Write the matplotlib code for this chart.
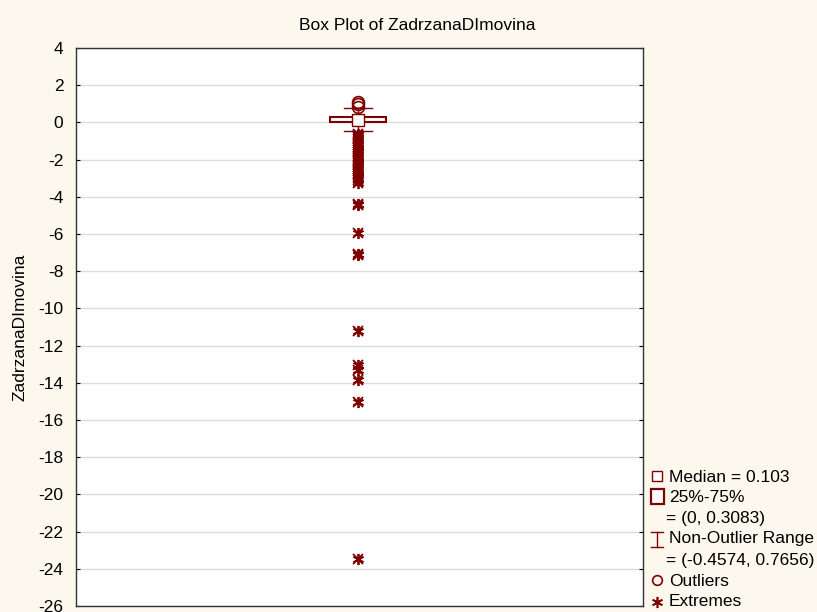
import matplotlib
matplotlib.use("Agg")
import matplotlib.pyplot as plt
from matplotlib.patches import Rectangle
from matplotlib.lines import Line2D

plt.rcParams['font.family'] = ['Liberation Sans', 'DejaVu Sans']

# Data
variable = "ZadrzanaDImovina"
median = 0.103
q1, q3 = 0.0, 0.3083
whisker_low, whisker_high = -0.4574, 0.7656
outliers = [1.1, 0.97, 0.85]
extremes = [-0.6, -0.7, -0.8, -0.9, -1.0, -1.1, -1.2, -1.3, -1.4, -1.5, -1.6,
            -1.7, -1.8, -1.9, -2.0, -2.1, -2.2, -2.3, -2.4, -2.5, -2.6, -2.7,
            -2.8, -2.9, -3.0, -3.1, -3.25, -4.4, -4.45, -5.93, -7.1, -7.15,
            -11.2, -13.05, -13.3, -13.85, -15.02, -23.45]
yticks = list(range(4, -27, -2))

color = '#800000'
bg = '#FDF8EE'
fs = 12.5

fig = plt.figure(figsize=(8.17, 6.12), dpi=100, facecolor=bg)
ax = fig.add_axes([76/817, 1-606/612, (643-76)/817, (606-48)/612])
ax.set_facecolor('white')
ax.set_xlim(-1, 1)
ax.set_ylim(-26, 4)
ax.set_yticks(yticks)
ax.set_yticklabels([str(t) for t in yticks], fontsize=fs)
ax.set_xticks([])
ax.grid(axis='y', color='#dcdcdc', linewidth=1)
ax.set_axisbelow(True)
ax.tick_params(axis='y', direction='in', length=3, right=True, pad=9)
for s in ax.spines.values():
    s.set_color('#333333')
    s.set_linewidth(1)

x0 = -0.005
# whiskers
ax.plot([x0, x0], [q3, whisker_high], color=color, lw=1)
ax.plot([x0, x0], [whisker_low, q1], color=color, lw=1)
ax.plot([x0-0.05, x0+0.05], [whisker_high]*2, color=color, lw=1)
ax.plot([x0-0.05, x0+0.05], [whisker_low]*2, color=color, lw=1)
# box
ax.add_patch(Rectangle((x0-0.1, q1), 0.2, q3-q1, facecolor='white', edgecolor=color, lw=1.5, zorder=3))
# median
ax.plot([x0], [median], marker='s', markersize=8, markerfacecolor='white', markeredgecolor=color, markeredgewidth=1, zorder=4)
# outliers
ax.plot([x0]*len(outliers), outliers, linestyle='none', marker='o', markersize=8.5, markerfacecolor='none', markeredgecolor=color, markeredgewidth=1.2, zorder=4)
# extremes
ax.plot([x0]*len(extremes), extremes, linestyle='none', marker=(6, 2, 0), markersize=8, markeredgecolor=color, markeredgewidth=1.3, zorder=4)
ax.plot([x0]*len(extremes), extremes, linestyle='none', marker='x', markersize=7, markeredgecolor=color, markeredgewidth=1.3, zorder=4)

fig.text(417/817, 1-25/612, "Box Plot of " + variable, fontsize=fs, ha='center', va='center')
ax.set_ylabel(variable, fontsize=fs, labelpad=8)

# legend drawn in figure pixels
def fx(px):
    return px/817
def fy(py):
    return 1-py/612

mx = 657
tx = 669
fig.text(fx(tx), fy(477), f"Median = {median}", fontsize=fs, va='center')
fig.add_artist(Line2D([fx(mx)], [fy(476)], marker='s', markersize=7, markerfacecolor='white', markeredgecolor=color, markeredgewidth=1, transform=fig.transFigure))
fig.text(fx(tx), fy(497), "25%-75%", fontsize=fs, va='center')
fig.add_artist(Rectangle((fx(651), fy(504)), fx(13), 15/612, facecolor='white', edgecolor=color, lw=1.6, transform=fig.transFigure))
fig.text(fx(666), fy(518), f"= ({q1:g}, {q3})", fontsize=fs, va='center')
fig.text(fx(tx), fy(539), "Non-Outlier Range", fontsize=fs, va='center')
fig.add_artist(Line2D([fx(657), fx(657)], [fy(532), fy(547)], color=color, lw=1, transform=fig.transFigure))
fig.add_artist(Line2D([fx(651), fx(663)], [fy(532), fy(532)], color=color, lw=1, transform=fig.transFigure))
fig.add_artist(Line2D([fx(651), fx(663)], [fy(547), fy(547)], color=color, lw=1, transform=fig.transFigure))
fig.text(fx(666), fy(560), f"= ({whisker_low}, {whisker_high})", fontsize=fs, va='center')
fig.text(fx(tx), fy(581), "Outliers", fontsize=fs, va='center')
fig.add_artist(Line2D([fx(mx)], [fy(580)], marker='o', markersize=7, markerfacecolor='none', markeredgecolor=color, markeredgewidth=1.2, transform=fig.transFigure))
fig.text(fx(tx), fy(602), "Extremes", fontsize=fs, va='center')
fig.add_artist(Line2D([fx(mx)], [fy(602)], marker=(6, 2, 0), markersize=8, markeredgecolor=color, markeredgewidth=1.2, transform=fig.transFigure))

fig.savefig("out.png", dpi=100, facecolor=bg)
